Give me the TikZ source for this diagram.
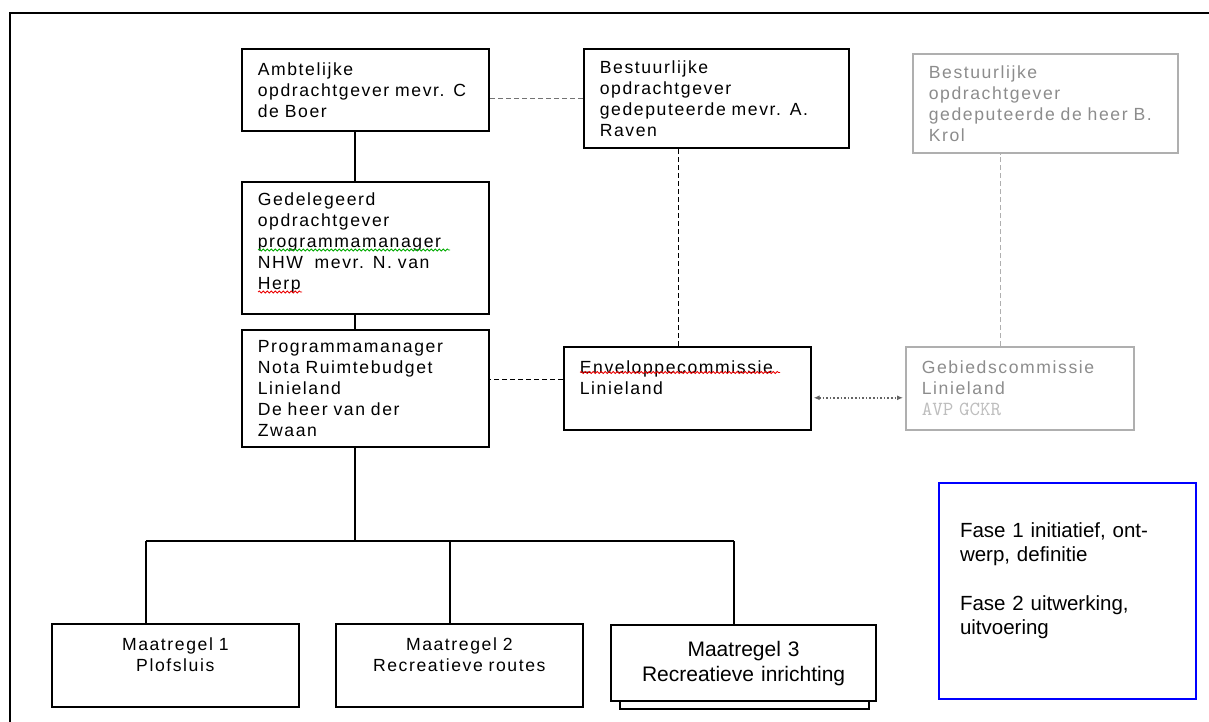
\documentclass[tikz,border=0pt]{standalone}
\usepackage{fontspec}
\setmainfont{Liberation Sans}
\newfontfamily\orgfam[LetterSpace=9, WordSpace=1.3]{Liberation Sans}
\usetikzlibrary{arrows.meta,calc,decorations.pathmorphing}

\definecolor{lijngrijs}{RGB}{175,175,175}
\definecolor{tekstgrijs}{RGB}{140,140,140}
\definecolor{avpgrijs}{RGB}{190,190,190}
\definecolor{streepgrijs}{RGB}{115,115,115}
\definecolor{pijlgrijs}{RGB}{100,100,100}
\definecolor{faseblauw}{RGB}{0,0,255}
\definecolor{kringelrood}{RGB}{235,0,0}
\definecolor{kringelgroen}{RGB}{0,170,0}

\tikzset{
  orgbox/.style={draw, line width=0.8pt, anchor=north west, align=left,
    inner xsep=8pt, inner ysep=0pt, font=\orgfam\fontsize{8.8}{10.5}\selectfont},
  grijsbox/.style={orgbox, draw=lijngrijs, text=tekstgrijs},
  maatbox/.style={orgbox, align=center},
  lijn/.style={line width=0.8pt},
  stippel/.style={line width=0.65pt, dash pattern=on 2.5pt off 1.5pt},
  pijl/.style={line width=0.8pt, draw=pijlgrijs, densely dotted,
    {Latex[length=3pt,width=2.5pt]}-{Latex[length=3pt,width=2.5pt]}, shorten <=1pt, shorten >=1pt},
  kringel/.style={decorate, decoration={snake, amplitude=0.5pt, segment length=2pt}, line width=0.4pt}
}

\begin{document}
\begin{tikzpicture}[x=0.5pt, y=-0.5pt]
  \useasboundingbox (0,0) rectangle (1209,722);
  \clip (0,0) rectangle (1209,722);
  \draw[line width=0.8pt] (10,13) rectangle (1240,760);
  \coordinate (stam) at (355,0);
  \coordinate (tak1) at (146,541);
  \coordinate (tak2) at (450,541);
  \coordinate (tak3) at (734,541);

  \path node (ambt)   at (241,48)  [orgbox, text width=107.5pt, minimum height=41pt]
          {Ambtelijke\\ opdrachtgever mevr. C\\ de Boer}
        node (best)   at (583,48)  [orgbox, text width=116.5pt, minimum height=49.5pt]
          {Bestuurlijke\\ opdrachtgever\\ gedeputeerde mevr. A.\\ Raven}
        node (krol)   at (912,53)  [grijsbox, text width=116.5pt, minimum height=49.5pt]
          {Bestuurlijke\\ opdrachtgever\\ gedeputeerde de heer B.\\ Krol}
        node (gedel)  at (241,181) [orgbox, text width=107.5pt, minimum height=66pt]
          {Gedelegeerd\\ opdrachtgever\\ programmamanager\\ NHW\ \ mevr. N. van\\ Herp\\[-4pt]\mbox{}}
        node (progr)  at (241,329) [orgbox, text width=107.5pt, minimum height=58.5pt]
          {Programmamanager\\ Nota Ruimtebudget\\ Linieland\\ De heer van der\\ Zwaan}
        node (envel)  at (563,346) [orgbox, text width=107.5pt, minimum height=41.5pt]
          {Enveloppecommissie\\ Linieland\\ \mbox{}}
        node (gebied) at (905,346) [grijsbox, text width=98pt, minimum height=41.5pt]
          {Gebiedscommissie\\ Linieland\\ {\ttfamily\fontsize{10}{10.5}\selectfont\color{avpgrijs}AVP GCKR}}
        node (maat1)  at (51,623)  [maatbox, text width=107.5pt, minimum height=41.5pt]
          {Maatregel 1\\ Plofsluis\\ \mbox{}}
        node (maat2)  at (335,623) [maatbox, text width=107.5pt, minimum height=41.5pt]
          {Maatregel 2\\ Recreatieve routes\\ \mbox{}}
        node (maat3)  at (610,624) [maatbox, line width=1.1pt, text width=116.5pt, minimum height=38pt,
          font=\fontsize{10.5}{12.5}\selectfont]
          {Maatregel 3\\ Recreatieve inrichting}
        node (fase)   at (938,482) [draw=faseblauw, line width=1pt, anchor=north west, align=left,
          inner xsep=10.5pt, inner ysep=0pt, text width=107.5pt, minimum height=108pt,
          font=\fontsize{10.25}{12.15}\selectfont]
          {Fase 1 initiatief, ont-\\ werp, definitie\\[12.15pt] Fase 2 uitwerking,\\ uitvoering\\ \mbox{}};

  \draw[lijn] (ambt.south -| stam) -- (gedel.north -| stam)
              (gedel.south -| stam) -- (progr.north -| stam)
              (progr.south -| stam) -- (tak1 -| stam)
              (tak1) -- (tak3)
              (tak1) -- (maat1.north -| tak1)
              (tak2) -- (maat2.north -| tak2)
              (tak3) -- (maat3.north -| tak3);
  \draw[lijn] ([xshift=5pt]maat3.south west) -- ++(0,7) -| ([xshift=-4pt]maat3.south east);

  \draw[stippel, draw=streepgrijs] (best.west) -- (best.west -| ambt.east);
  \draw[stippel] ([xshift=-4.25pt]envel.north) -- ([xshift=-4.25pt]envel.north |- best.south);
  \draw[stippel] ([yshift=4.25pt]envel.west) -- ([yshift=4.25pt]envel.west -| progr.east);
  \draw[stippel, draw=lijngrijs] ([xshift=-9.5pt]gebied.north) -- ([xshift=-9.5pt]gebied.north |- krol.south);
  \draw[pijl] ([yshift=-4.75pt]envel.east) -- ([yshift=-4.75pt]envel.east -| gebied.west);

  \draw[kringel, draw=kringelgroen] ($(gedel.north west)+(17,69)$) -- ++(192,0);
  \draw[kringel, draw=kringelrood] ($(gedel.north west)+(17,111)$) -- ++(44,0);
  \draw[kringel, draw=kringelrood] ($(envel.north west)+(17,26.5)$) -- ++(200,0);
\end{tikzpicture}
\end{document}
